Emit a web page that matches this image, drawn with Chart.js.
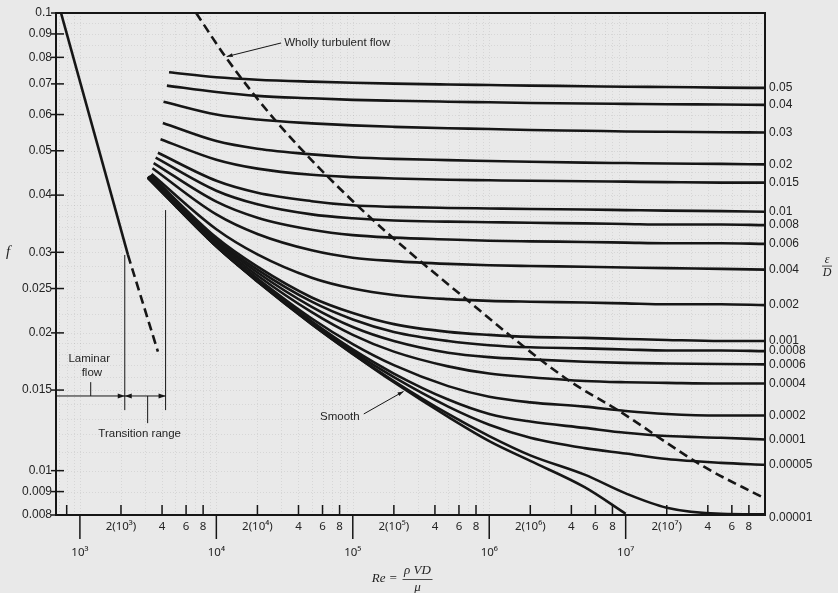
<!DOCTYPE html>
<html>
<head>
<meta charset="utf-8">
<title>Moody diagram</title>
<script src="https://cdn.jsdelivr.net/npm/chart.js@4.4.1/dist/chart.umd.min.js"></script>
<style>
  html, body { margin:0; padding:0; background:#e9e9e9; overflow:hidden; }
  #wrap { position:relative; width:838px; height:593px; }
  canvas { display:block; }
</style>
</head>
<body>
<div id="wrap"><canvas id="chart" width="838" height="593"></canvas></div>
<script>
// ---------------- DATA ----------------
// Reynolds numbers shared by the roughness curves (after each curve's own start)
const reGrid = [1e4, 2e4, 5e4, 1e5, 2e5, 5e5, 1e6, 2e6, 5e6, 1e7, 2e7, 5e7, 1.05e8];

// relative roughness of each curve (epsilon / D)
const roughnessLabels = ['0.05','0.04','0.03','0.02','0.015','0.01','0.008','0.006','0.004',
  '0.002','0.001','0.0008','0.0006','0.0004','0.0002','0.0001','0.00005','0.00001'];

// Reynolds number where each curve begins (left end)
const curveStartRe = [4500, 4340, 4100, 4055, 3900, 3730, 3590, 3470, 3400,
  3350, 3300, 3250, 3250, 3200, 3200, 3150, 3150, 3150];

// friction factor f: [start, then one value for each reGrid entry]
const f_0_05    = [0.0742, 0.0724, 0.0715, 0.0708, 0.0704, 0.0701, 0.0698, 0.0696, 0.0694, 0.0692, 0.0690, 0.0689, 0.0687, 0.0686];
const f_0_04    = [0.0694, 0.0672, 0.0659, 0.0651, 0.0646, 0.0643, 0.0640, 0.0638, 0.0636, 0.0634, 0.0633, 0.0632, 0.0631, 0.0630];
const f_0_03    = [0.0640, 0.0600, 0.0585, 0.0574, 0.0568, 0.0564, 0.0560, 0.0558, 0.0555, 0.0553, 0.0551, 0.0550, 0.0549, 0.0548];
const f_0_02    = [0.0575, 0.0525, 0.0505, 0.0491, 0.0484, 0.0480, 0.0477, 0.0475, 0.0473, 0.0471, 0.0470, 0.0469, 0.0468, 0.0467];
const f_0_015   = [0.0530, 0.0478, 0.0457, 0.0443, 0.0438, 0.0435, 0.0432, 0.0431, 0.0430, 0.0429, 0.0428, 0.0427, 0.0426, 0.0426];
const f_0_01    = [0.0495, 0.0430, 0.0405, 0.0388, 0.0380, 0.0377, 0.0375, 0.0374, 0.0373, 0.0372, 0.0371, 0.0370, 0.0369, 0.0368];
const f_0_008   = [0.0483, 0.0409, 0.0382, 0.0363, 0.0356, 0.0352, 0.0350, 0.0349, 0.0348, 0.0347, 0.0346, 0.0345, 0.0345, 0.0344];
const f_0_006   = [0.0470, 0.0387, 0.0357, 0.0336, 0.0327, 0.0323, 0.0320, 0.0318, 0.0317, 0.0316, 0.0315, 0.0314, 0.0314, 0.0313];
const f_0_004   = [0.0458, 0.0363, 0.0329, 0.0303, 0.0292, 0.0287, 0.0283, 0.0281, 0.0280, 0.0279, 0.0278, 0.0277, 0.0276, 0.0275];
const f_0_002   = [0.0445, 0.0337, 0.0297, 0.0264, 0.0250, 0.0242, 0.0237, 0.0235, 0.0234, 0.0233, 0.0232, 0.0231, 0.0231, 0.0230];
const f_0_001   = [0.0442, 0.0323, 0.0279, 0.0239, 0.0221, 0.0209, 0.0201, 0.0198, 0.0196, 0.0195, 0.0194, 0.0193, 0.0192, 0.0192];
const f_0_0008  = [0.0441, 0.0320, 0.0275, 0.0234, 0.0214, 0.0201, 0.0192, 0.0188, 0.0186, 0.0185, 0.0184, 0.0183, 0.0183, 0.01825];
const f_0_0006  = [0.0440, 0.0317, 0.0271, 0.0228, 0.0206, 0.0192, 0.0181, 0.0177, 0.0175, 0.0173, 0.0172, 0.01715, 0.0171, 0.01707];
const f_0_0004  = [0.0440, 0.0314, 0.0267, 0.0222, 0.0198, 0.0182, 0.0169, 0.0163, 0.0160, 0.0157, 0.0156, 0.01555, 0.0155, 0.0155];
const f_0_0002  = [0.0439, 0.0311, 0.0263, 0.0215, 0.0189, 0.0170, 0.0153, 0.0145, 0.0141, 0.0138, 0.0135, 0.0133, 0.0132, 0.0132];
const f_0_0001  = [0.0439, 0.0310, 0.0261, 0.0212, 0.0184, 0.0163, 0.0143, 0.0133, 0.0128, 0.0124, 0.0121, 0.0119, 0.0118, 0.0117];
const f_0_00005 = [0.0438, 0.0309, 0.0260, 0.0211, 0.0182, 0.0160, 0.0138, 0.0126, 0.0118, 0.0112, 0.0109, 0.0106, 0.0104, 0.0103];
const f_0_00001 = [0.0437, 0.0309, 0.0259, 0.0209, 0.0180, 0.0157, 0.0133, 0.0119, 0.0108, 0.0098, 0.00892, 0.00830, 0.00805, 0.00803];

const roughnessCurves = [f_0_05, f_0_04, f_0_03, f_0_02, f_0_015, f_0_01, f_0_008, f_0_006, f_0_004,
  f_0_002, f_0_001, f_0_0008, f_0_0006, f_0_0004, f_0_0002, f_0_0001, f_0_00005, f_0_00001];

// smooth pipe: start, then reGrid values up to 1e7 (it leaves the chart there)
const smoothStartRe = 3150;
const f_smooth = [0.0436, 0.0309, 0.0259, 0.0209, 0.0180, 0.0156, 0.0131, 0.0116, 0.0105, 0.0092, 0.00805];

// laminar flow line (solid part, then dashed part)
const laminarRe = [727, 2250];
const laminarF  = [0.1, 0.0296];
const laminarDashedRe = [2250, 3730];
const laminarDashedF  = [0.0296, 0.0182];

// wholly turbulent boundary (dashed)
const whollyTurbulentRe = [7110, 12100, 28000, 110700, 665000, 3780000, 8750000, 37500000, 99000000];
const whollyTurbulentF  = [0.1, 0.0790, 0.0576, 0.0377, 0.0238, 0.01578, 0.01356, 0.0102, 0.00877];

// right-hand labels sit at these f levels
const rightLabelF = [0.0686, 0.0630, 0.0548, 0.0467, 0.0426, 0.0368, 0.0344, 0.0313, 0.0275,
  0.0230, 0.0192, 0.01825, 0.01707, 0.0155, 0.0132, 0.0117, 0.0103, 0.0079];

// axis ticks
const yTickValues = [0.1, 0.09, 0.08, 0.07, 0.06, 0.05, 0.04, 0.03, 0.025, 0.02, 0.015, 0.01, 0.009, 0.008];
const yTickLabels = ['0.1','0.09','0.08','0.07','0.06','0.05','0.04','0.03','0.025','0.02','0.015','0.01','0.009','0.008'];
const xMajorValues = [1e3, 1e4, 1e5, 1e6, 1e7];
const xMajorLabels = ['10³', '10⁴', '10⁵', '10⁶', '10⁷'];
const xMinorValues = [2e3,4e3,6e3,8e3, 2e4,4e4,6e4,8e4, 2e5,4e5,6e5,8e5, 2e6,4e6,6e6,8e6, 2e7,4e7,6e7,8e7];
const xMinorLabels = ['2(10³)','4','6','8','2(10⁴)','4','6','8','2(10⁵)','4','6','8',
  '2(10⁶)','4','6','8','2(10⁷)','4','6','8'];
const xUnlabelledTicks = [800];

// ---------------- STYLE / BUILD ----------------
const INK = '#161616';
const TEXT = '#242424';
const SANS = '"Liberation Sans", Arial, Helvetica, sans-serif';
const XSANS = '"Noto Sans", "DejaVu Sans", sans-serif';
const SERIF = '"Liberation Serif", "Times New Roman", serif';
const X_MIN = 668, X_MAX = 1.05e8, Y_MIN = 0.008, Y_MAX = 0.1;

const pairs = (xs, ys) => ys.map((v, i) => ({x: xs[i], y: v}));
const curveStyle = {borderColor: INK, borderWidth: 2.6, pointRadius: 0, fill: false,
  cubicInterpolationMode: 'monotone', borderCapStyle: 'butt'};

const datasets = roughnessCurves.map((arr, i) => Object.assign({}, curveStyle, {
  label: roughnessLabels[i],
  data: pairs([curveStartRe[i]].concat(reGrid), arr)
}));
datasets.push(Object.assign({}, curveStyle, {label: 'Smooth',
  data: pairs([smoothStartRe].concat(reGrid), f_smooth)}));
datasets.push(Object.assign({}, curveStyle, {label: 'Laminar',
  data: pairs(laminarRe, laminarF), cubicInterpolationMode: 'default', tension: 0}));
datasets.push(Object.assign({}, curveStyle, {label: 'Laminar (dashed)',
  data: pairs(laminarDashedRe, laminarDashedF), borderDash: [9, 5], cubicInterpolationMode: 'default', tension: 0}));
datasets.push(Object.assign({}, curveStyle, {label: 'Wholly turbulent',
  data: pairs(whollyTurbulentRe, whollyTurbulentF), borderDash: [9, 5]}));

const xTicks = xMajorValues.map((v, i) => ({value: v, label: ['', xMajorLabels[i]]}))
  .concat(xMinorValues.map((v, i) => ({value: v, label: xMinorLabels[i]})))
  .sort((a, b) => a.value - b.value);

// annotation geometry, in data coordinates (Re, f)
const ann = {
  vLines: [
    {re: 2132, f1: 0.0296, f2: 0.01356},
    {re: 4246, f1: 0.0371, f2: 0.01356},
    {re: 3137, f1: 0.01456, f2: 0.0127},
    {re: 1200, f1: 0.01561, f2: 0.01456}
  ],
  hLine: {f: 0.01456, re1: X_MIN, re2: 4246},
  arrows: [{re: 2132, f: 0.01456, dir: 1}, {re: 2132, f: 0.01456, dir: -1}, {re: 4246, f: 0.01456, dir: 1}],
  leaders: [
    {re1: 29800, f1: 0.0860, re2: 11900, f2: 0.0803},
    {re1: 120400, f1: 0.0133, re2: 235700, f2: 0.0149}
  ],
  texts: [
    {t: 'Wholly turbulent flow', re: 31400, f: 0.0862, align: 'left'},
    {t: 'Laminar', re: 1170, f: 0.01758, align: 'center'},
    {t: 'flow', re: 1224, f: 0.01638, align: 'center'},
    {t: 'Transition range', re: 2742, f: 0.01202, align: 'center'},
    {t: 'Smooth', re: 80400, f: 0.01313, align: 'center'}
  ]
};

const moodyPlugin = {
  id: 'moody',
  beforeDraw(chart) {
    const {ctx, width, height} = chart;
    const {left, right, top, bottom} = chart.chartArea;
    const xs = chart.scales.x, ys = chart.scales.y;
    ctx.save();
    ctx.fillStyle = '#e9e9e9';
    ctx.fillRect(0, 0, width, height);
    // faint graph-paper grid
    ctx.strokeStyle = 'rgba(0,0,0,0.08)';
    ctx.lineWidth = 1;
    ctx.setLineDash([1, 2]);
    for (let d = 100; d <= 1e7; d *= 10) {
      for (let k = 1; k <= 9; k++) {
        const p = Math.round(xs.getPixelForValue(k * d)) + 0.5;
        if (p > left + 2 && p < right - 2) { ctx.beginPath(); ctx.moveTo(p, top); ctx.lineTo(p, bottom); ctx.stroke(); }
      }
    }
    for (let k = 8; k <= 100; k += (k < 20 ? 1 : (k < 40 ? 2 : 5))) {
      const p = Math.round(ys.getPixelForValue(k / 1000)) + 0.5;
      if (p > top + 2 && p < bottom - 2) { ctx.beginPath(); ctx.moveTo(left, p); ctx.lineTo(right, p); ctx.stroke(); }
    }
    ctx.restore();
  },
  afterDraw(chart) {
    const {ctx} = chart;
    const {left, right, top, bottom} = chart.chartArea;
    const xs = chart.scales.x, ys = chart.scales.y;
    const X = v => xs.getPixelForValue(v), Y = v => ys.getPixelForValue(v);
    const seg = (x1, y1, x2, y2) => { ctx.beginPath(); ctx.moveTo(x1, y1); ctx.lineTo(x2, y2); ctx.stroke(); };
    ctx.save();
    ctx.setLineDash([]);
    ctx.strokeStyle = INK;
    ctx.fillStyle = INK;
    // frame
    ctx.lineWidth = 2;
    ctx.strokeRect(left, top, right - left, bottom - top);
    // x ticks
    ctx.lineWidth = 1.5;
    xMinorValues.concat(xUnlabelledTicks).forEach(v => { const p = X(v); seg(p, bottom, p, bottom - 10); });
    xMajorValues.forEach(v => { const p = X(v); seg(p, bottom, p, bottom + 24); });
    // y ticks
    yTickValues.forEach(v => { const p = Y(v); seg(left - 5, p, left + 8, p); });
    // annotation lines
    ctx.lineWidth = 1;
    ann.vLines.forEach(l => { const p = X(l.re); seg(p, Y(l.f1), p, Y(l.f2)); });
    seg(X(ann.hLine.re1), Y(ann.hLine.f), X(ann.hLine.re2), Y(ann.hLine.f));
    ann.arrows.forEach(a => {
      const px = X(a.re), py = Y(a.f);
      ctx.beginPath();
      ctx.moveTo(px, py);
      ctx.lineTo(px - a.dir * 7, py - 2.5);
      ctx.lineTo(px - a.dir * 7, py + 2.5);
      ctx.closePath();
      ctx.fill();
    });
    ann.leaders.forEach(l => {
      const x1 = X(l.re1), y1 = Y(l.f1), x2 = X(l.re2), y2 = Y(l.f2);
      seg(x1, y1, x2, y2);
      const ang = Math.atan2(y2 - y1, x2 - x1);
      ctx.beginPath();
      ctx.moveTo(x2, y2);
      ctx.lineTo(x2 - 6 * Math.cos(ang) + 2 * Math.sin(ang), y2 - 6 * Math.sin(ang) - 2 * Math.cos(ang));
      ctx.lineTo(x2 - 6 * Math.cos(ang) - 2 * Math.sin(ang), y2 - 6 * Math.sin(ang) + 2 * Math.cos(ang));
      ctx.closePath();
      ctx.fill();
    });
    // annotation texts
    ctx.fillStyle = TEXT;
    ctx.font = '11.5px ' + SANS;
    ctx.textBaseline = 'middle';
    ann.texts.forEach(t => { ctx.textAlign = t.align; ctx.fillText(t.t, X(t.re), Y(t.f)); });
    // axis titles
    ctx.font = 'italic 15px ' + SERIF;
    ctx.textAlign = 'center';
    ctx.fillText('f', 8, Y(0.03));
    // epsilon / D
    const ex = right + 62, ey = Y(0.0282);
    ctx.font = 'italic 12px ' + SERIF;
    ctx.fillText('ε', ex, ey - 5);
    ctx.fillText('D', ex, ey + 8);
    ctx.lineWidth = 0.8;
    ctx.strokeStyle = TEXT;
    seg(ex - 5, ey + 1.5, ex + 5, ey + 1.5);
    // Re = rho V D / mu
    const cx = (left + right) / 2;
    const by = bottom + 64;
    ctx.font = 'italic 13px ' + SERIF;
    ctx.textAlign = 'right';
    ctx.fillText('Re =', cx - 13, by);
    ctx.textAlign = 'center';
    ctx.fillText('ρ VD', cx + 7, by - 8);
    ctx.fillText('μ', cx + 7, by + 9);
    seg(cx - 8, by + 0.5, cx + 22, by + 0.5);
    ctx.restore();
  }
};

const tickFont = {family: SANS, size: 12};

new Chart(document.getElementById('chart'), {
  type: 'line',
  data: {datasets},
  plugins: [moodyPlugin],
  options: {
    responsive: false,
    animation: false,
    devicePixelRatio: 1,
    layout: {padding: {top: 13, left: 0, right: 0, bottom: 0}},
    plugins: {legend: {display: false}, tooltip: {enabled: false}, title: {display: false}},
    scales: {
      x: {
        type: 'logarithmic', position: 'bottom', min: X_MIN, max: X_MAX, bounds: 'data',
        grid: {display: false, drawTicks: false}, border: {display: false},
        afterBuildTicks: s => { s.ticks = xTicks.map(t => ({value: t.value})); },
        afterFit: s => { s.height = 78; },
        ticks: {
          autoSkip: false, maxRotation: 0, minRotation: 0, padding: -1, color: TEXT,
          font: {family: XSANS, size: 11.5, lineHeight: 2.26},
          callback: (v, i) => xTicks[i] ? xTicks[i].label : ''
        }
      },
      y: {
        type: 'logarithmic', position: 'left', min: Y_MIN, max: Y_MAX, bounds: 'data',
        grid: {display: false, drawTicks: false}, border: {display: false},
        afterBuildTicks: s => { s.ticks = yTickValues.map(v => ({value: v})); },
        afterFit: s => { s.width = 56; },
        ticks: {autoSkip: false, padding: 4, color: TEXT, font: tickFont,
          callback: (v, i) => yTickLabels[i]}
      },
      yR: {
        type: 'logarithmic', position: 'right', min: Y_MIN, max: Y_MAX, bounds: 'data',
        grid: {display: false, drawTicks: false}, border: {display: false},
        afterBuildTicks: s => { s.ticks = rightLabelF.map(v => ({value: v})); },
        afterFit: s => { s.width = 73; },
        ticks: {autoSkip: false, padding: 4, color: TEXT, font: tickFont,
          callback: (v, i) => roughnessLabels[i]}
      }
    }
  }
});
</script>
</body>
</html>
